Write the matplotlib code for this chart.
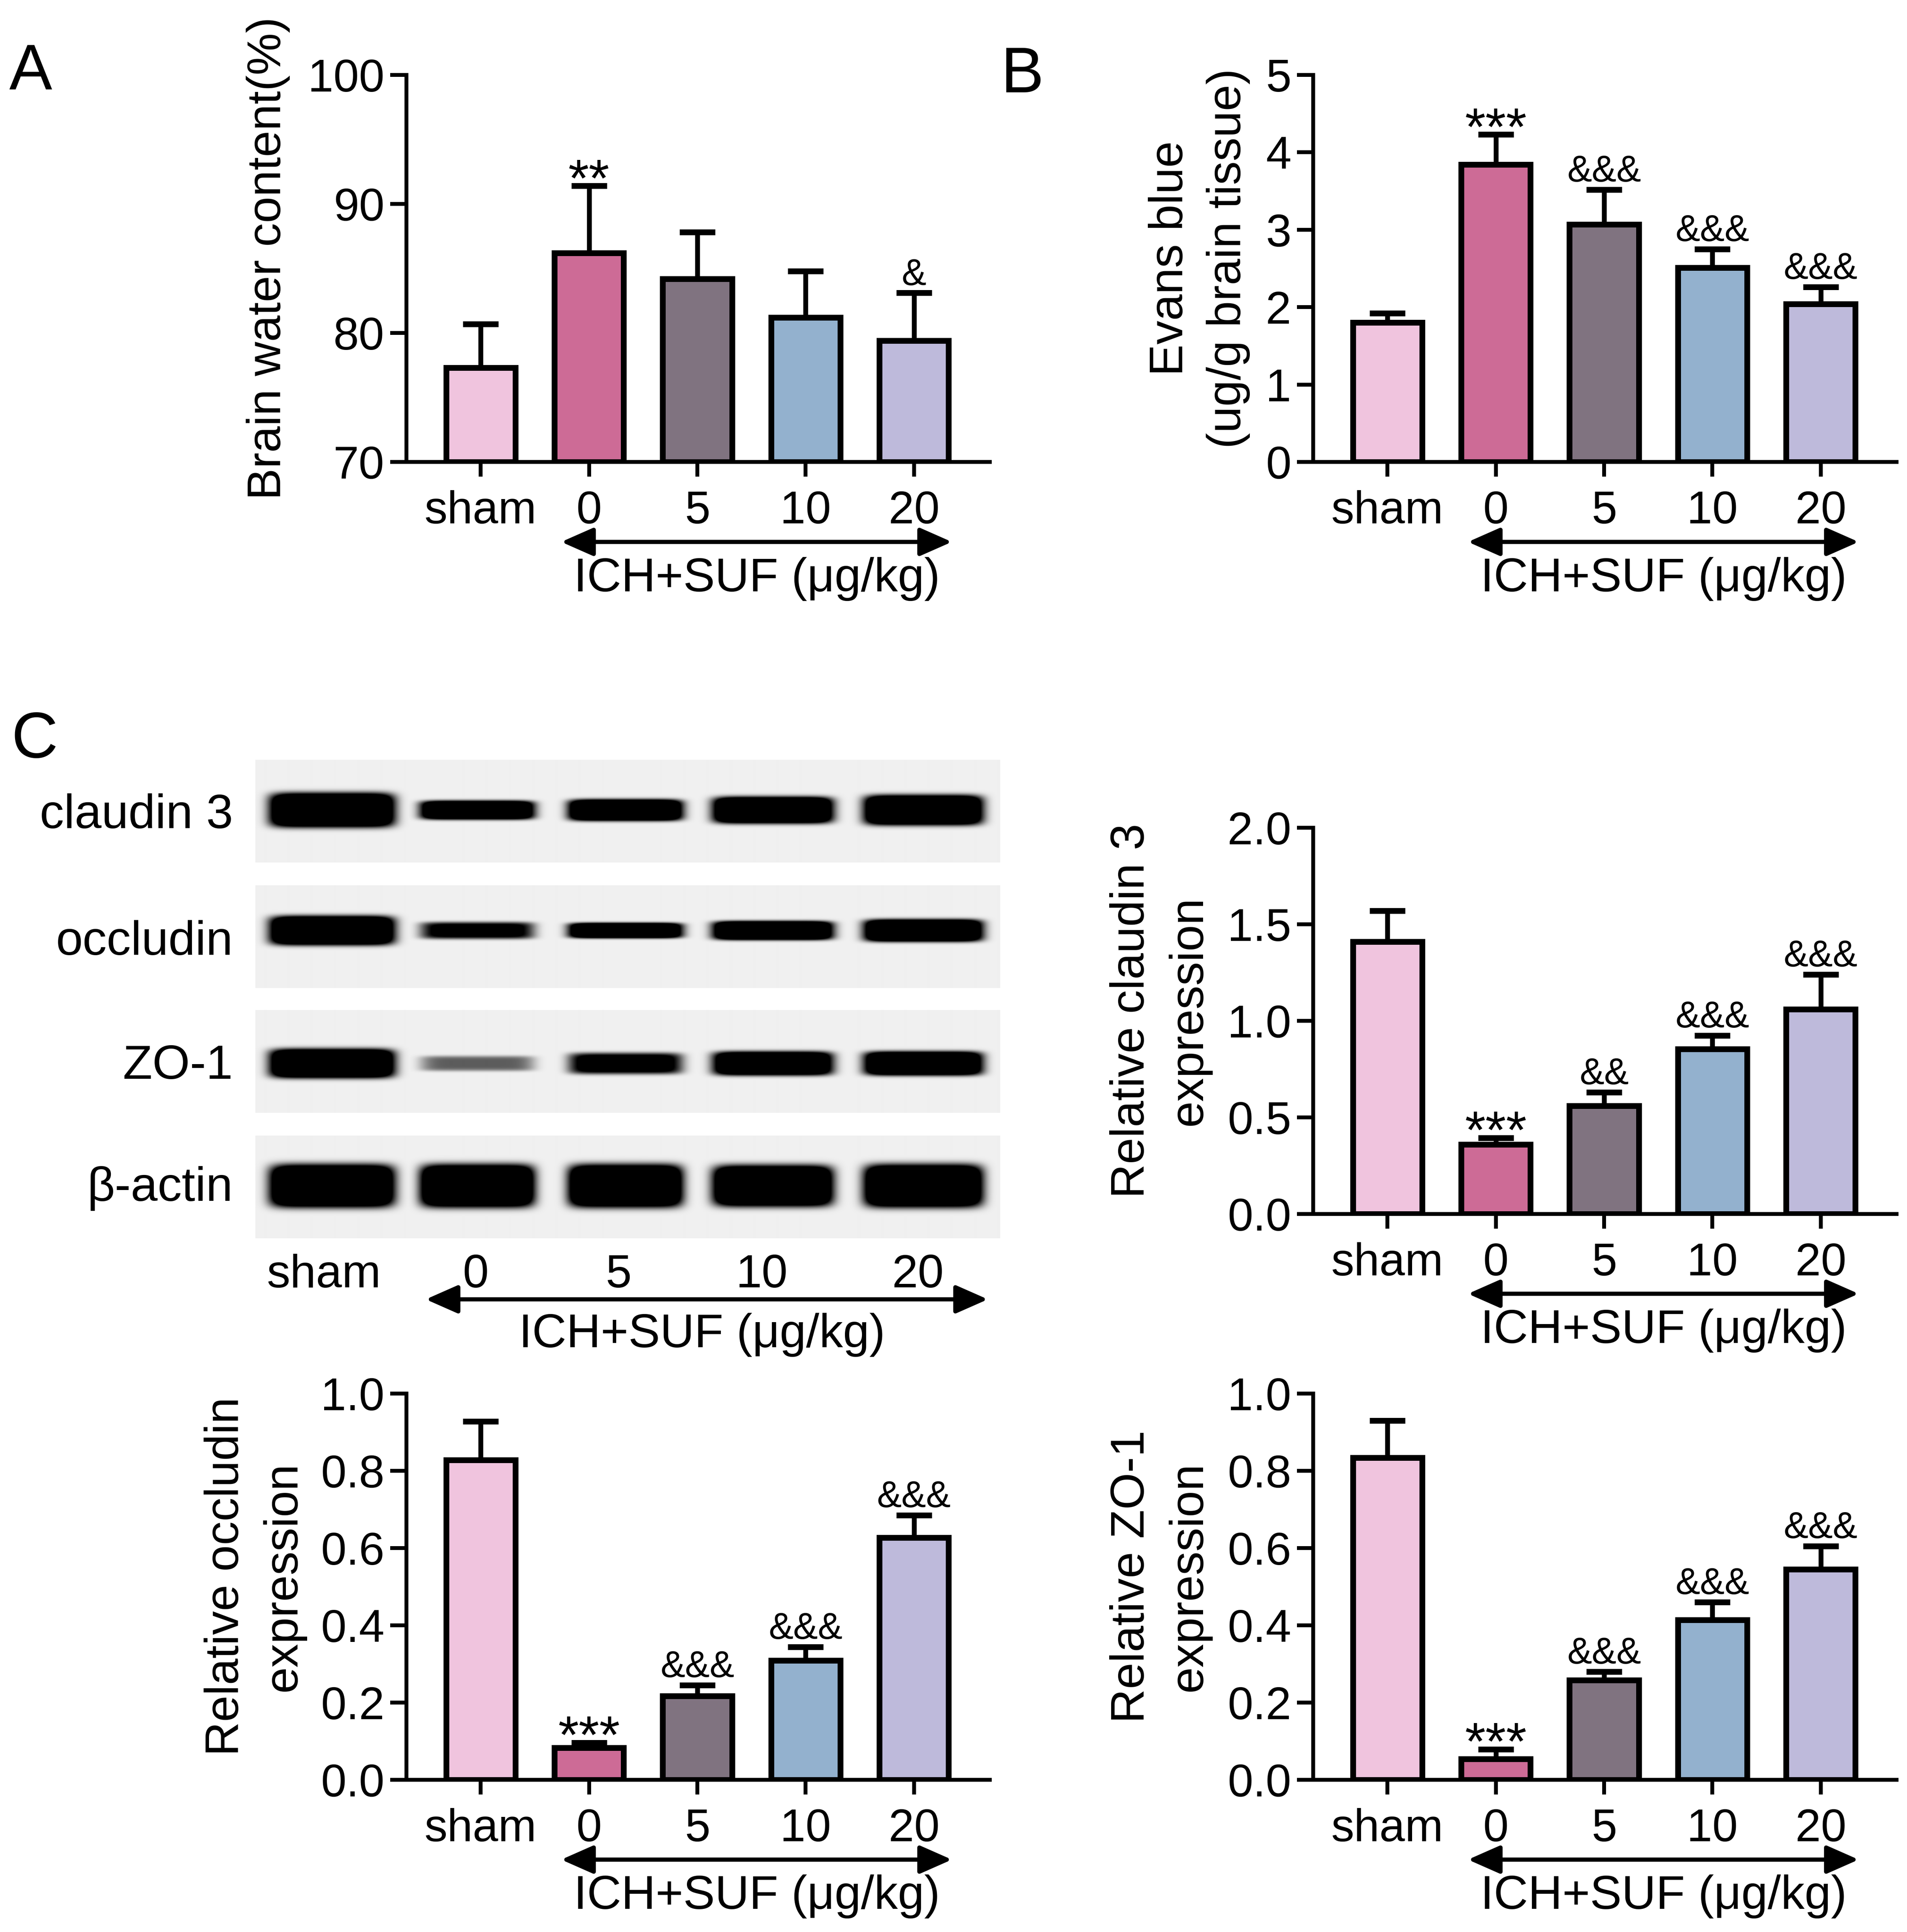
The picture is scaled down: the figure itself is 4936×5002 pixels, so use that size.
import numpy as np
import matplotlib
matplotlib.use('Agg')
import matplotlib.pyplot as plt
from matplotlib.patches import FancyArrowPatch
from matplotlib.transforms import blended_transform_factory

plt.rcParams['font.family'] = ['Liberation Sans', 'DejaVu Sans']

W, H = 4936, 5002
DPI = 300

# ---- data ----
groups = ['sham', '0', '5', '10', '20']
colors = ['#F0C4DE', '#CD6B96', '#807380', '#93B1CE', '#BEBADB']

water_mean = [77.3, 86.2, 84.2, 81.2, 79.4]
water_err = [3.4, 5.2, 3.6, 3.6, 3.7]
water_sig = ['', '**', '', '', '&']

evans_mean = [1.80, 3.84, 3.07, 2.51, 2.04]
evans_err = [0.12, 0.39, 0.45, 0.24, 0.22]
evans_sig = ['', '***', '&&&', '&&&', '&&&']

cldn_mean = [1.41, 0.36, 0.56, 0.855, 1.06]
cldn_err = [0.16, 0.035, 0.07, 0.07, 0.18]
cldn_sig = ['', '***', '&&', '&&&', '&&&']

occl_mean = [0.828, 0.083, 0.217, 0.309, 0.627]
occl_err = [0.10, 0.013, 0.028, 0.035, 0.058]
occl_sig = ['', '***', '&&&', '&&&', '&&&']

zo1_mean = [0.834, 0.054, 0.258, 0.414, 0.545]
zo1_err = [0.096, 0.025, 0.022, 0.046, 0.06]
zo1_sig = ['', '***', '&&&', '&&&', '&&&']

# western blot: band darkness and thickness (px) per lane
blot_names = ['claudin 3', 'occludin', 'ZO-1', 'β-actin']
cldn_band = [1.0, 0.95, 1.0, 1.0, 1.0]
cldn_thick = [80, 44, 50, 62, 70]
occl_band = [1.0, 0.55, 0.95, 1.0, 1.0]
occl_thick = [68, 40, 36, 44, 52]
zo1_band = [1.0, 0.28, 0.6, 0.9, 0.95]
zo1_thick = [68, 36, 50, 56, 56]
actin_band = [1.0, 1.0, 1.0, 1.0, 1.0]
actin_thick = [100, 100, 100, 96, 100]

xlabel = 'ICH+SUF (μg/kg)'


def fx(px):
    return px / W


def fy(py):
    return 1 - py / H


fig = plt.figure(figsize=(W / DPI, H / DPI), dpi=DPI)


def bar_panel(left, top, bottom, means, errs, sigs, ylim, yticks, fmt,
              ylabel, lab_x):
    right = left + 1510
    ax = fig.add_axes([fx(left), fy(bottom), (right - left) / W,
                       (bottom - top) / H])
    x = np.arange(len(groups))
    base = ylim[0]
    ax.bar(x, np.array(means) - base, bottom=base, width=0.64, color=colors,
           edgecolor='k', linewidth=3.6, zorder=2)
    ax.errorbar(x, means, yerr=[np.zeros(len(errs)), errs], fmt='none',
                ecolor='k', elinewidth=3.0, capsize=11, capthick=3.6,
                zorder=3)
    for i, s in enumerate(sigs):
        if not s:
            continue
        if s.startswith('*'):
            fs, off = 33, -6.5
        else:
            fs, off = 23, 5.0
        ax.annotate(s, (i, means[i] + errs[i]), xytext=(0, off),
                    textcoords='offset points', ha='center', va='baseline',
                    fontsize=fs, zorder=4)
    ax.set_xlim(-0.686, 4.70)
    ax.set_ylim(ylim)
    ax.set_xticks(x)
    ax.set_xticklabels(groups)
    ax.set_yticks(yticks)
    ax.set_yticklabels([fmt.format(t) for t in yticks])
    for s in ['top', 'right']:
        ax.spines[s].set_visible(False)
    for s in ['left', 'bottom']:
        ax.spines[s].set_linewidth(2.4)
    ax.tick_params(axis='x', length=9, width=2.4, pad=8.5, labelsize=28.5)
    ax.tick_params(axis='y', length=10, width=2.4, pad=3.6, labelsize=28.5)
    ax.set_ylabel(ylabel, fontsize=29.5, va='center', linespacing=1.4)
    ax.yaxis.set_label_coords(lab_x, 0.526)

    tr = blended_transform_factory(ax.transData, ax.transAxes)
    arr = FancyArrowPatch((0.743, -0.2066), (4.35, -0.2066), transform=tr,
                          arrowstyle='<|-|>,head_length=17,head_width=7.5',
                          mutation_scale=1, lw=2.6, color='k',
                          shrinkA=0, shrinkB=0, clip_on=False)
    ax.add_artist(arr)
    ax.text(2.55, -0.334, xlabel, transform=tr, ha='center', va='baseline',
            fontsize=29.5)
    return ax


bar_panel(1052, 194, 1196, water_mean, water_err, water_sig, (70, 100),
          [70, 80, 90, 100], '{:.0f}', 'Brain water content(%)', -0.237)
bar_panel(3399, 194, 1196, evans_mean, evans_err, evans_sig, (0, 5),
          [0, 1, 2, 3, 4, 5], '{:.0f}', 'Evans blue\n(ug/g brain tissue)',
          -0.1955)
bar_panel(3399, 2143, 3143, cldn_mean, cldn_err, cldn_sig, (0, 2.0),
          [0, 0.5, 1.0, 1.5, 2.0], '{:.1f}',
          'Relative claudin 3\nexpression', -0.262)
bar_panel(1052, 3608, 4608, occl_mean, occl_err, occl_sig, (0, 1.0),
          [0, 0.2, 0.4, 0.6, 0.8, 1.0], '{:.1f}',
          'Relative occludin\nexpression', -0.26)
bar_panel(3399, 3608, 4608, zo1_mean, zo1_err, zo1_sig, (0, 1.0),
          [0, 0.2, 0.4, 0.6, 0.8, 1.0], '{:.1f}',
          'Relative ZO-1\nexpression', -0.262)

# ---- western blot strips ----
strip_left, strip_right = 661, 2588
strip_tops = [1967, 2292, 2615, 2940]
strip_h = 266
band_y = [0.49, 0.44, 0.52, 0.49]
lane_cx = [0.103, 0.298, 0.497, 0.695, 0.897]
lane_hw = [0.083, 0.076, 0.076, 0.080, 0.079]
label_base = [2144, 2472, 2793, 3109]
bands = [(cldn_band, cldn_thick), (occl_band, occl_thick),
         (zo1_band, zo1_thick), (actin_band, actin_thick)]

nx, ny = strip_right - strip_left, strip_h
gx, gy = np.meshgrid(np.linspace(0, 1, nx), np.linspace(0, 1, ny))
for k, (strength, thick) in enumerate(bands):
    dark = np.zeros_like(gx)
    for i in range(len(groups)):
        hy = thick[i] / 2 / ny / 0.92
        prof = (np.exp(-(np.abs(gx - lane_cx[i]) / lane_hw[i]) ** 8)
                * np.exp(-(np.abs(gy - band_y[k]) / hy) ** 5))
        dark = np.maximum(dark, np.clip(strength[i] * 2.2 * prof, 0, 1))
    img = 0.94 * (1 - dark)
    axs = fig.add_axes([fx(strip_left), fy(strip_tops[k] + strip_h),
                        nx / W, strip_h / H])
    axs.imshow(img, cmap='gray', vmin=0, vmax=1, aspect='auto',
               interpolation='bilinear', extent=[0, 1, 1, 0])
    axs.axis('off')
    fig.text(fx(603), fy(label_base[k]), blot_names[k], ha='right',
             va='baseline', fontsize=30)

lane_label_x = [839, 1231, 1601, 1972, 2376]
for g, px in zip(groups, lane_label_x):
    fig.text(fx(px), fy(3333), g, ha='center', va='baseline', fontsize=29)
blot_arrow = FancyArrowPatch((fx(1102), fy(3364)), (fx(2557), fy(3364)),
                             transform=fig.transFigure,
                             arrowstyle='<|-|>,head_length=17,head_width=7.5',
                             mutation_scale=1, lw=2.6, color='k',
                             shrinkA=0, shrinkB=0)
fig.add_artist(blot_arrow)
fig.text(fx(1817), fy(3488), xlabel, ha='center', va='baseline', fontsize=29.5)

# panel letters
fig.text(fx(24), fy(233), 'A', fontsize=40, va='baseline')
fig.text(fx(2590), fy(239), 'B', fontsize=40, va='baseline')
fig.text(fx(30), fy(1961), 'C', fontsize=40, va='baseline')

fig.savefig('out.png', dpi=DPI)
